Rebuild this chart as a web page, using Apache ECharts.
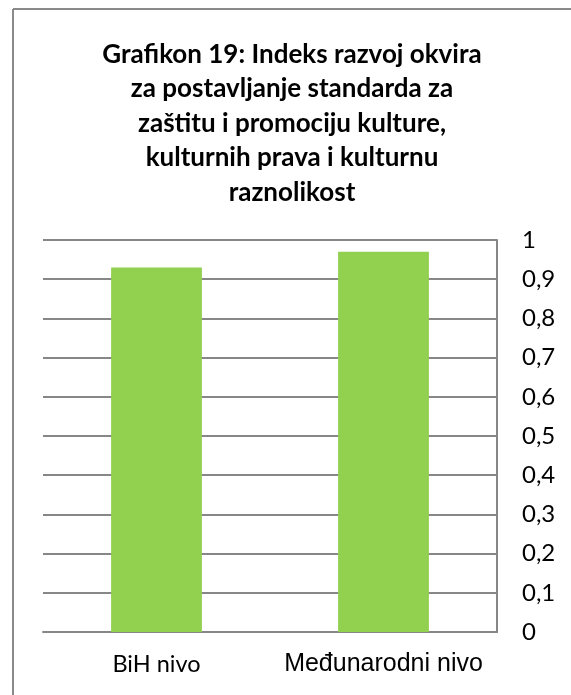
<!DOCTYPE html>
<html>
<head>
<meta charset="utf-8">
<script src="https://cdn.jsdelivr.net/npm/echarts@6/dist/echarts.min.js"></script>
<style>
  html, body { margin:0; padding:0; background:#fff; }
  #chart { width:571px; height:695px; }
</style>
</head>
<body>
<div id="chart"></div>
<script>
/* Grafikon 19 - index bars, value axis on the right */
var categories = ["BiH nivo", "Me\u0111unarodni nivo"];
var values = [0.93, 0.97];
var yTicks = [0, 0.1, 0.2, 0.3, 0.4, 0.5, 0.6, 0.7, 0.8, 0.9, 1];
var titleLines = [
  "Grafikon 19: Indeks razvoj okvira",
  "za postavljanje standarda za",
  "za\u0161titu i promociju kulture,",
  "kulturnih prava i kulturnu",
  "raznolikost"
];

var FONT = "Lato, 'Open Sans', sans-serif";
var GRID_C = "#878787";

var ch = echarts.init(document.getElementById("chart"), null, {renderer:"canvas"});
ch.setOption({
  animation:false,
  backgroundColor:"#ffffff",
  title:{
    text:titleLines.join("\n"),
    left:287, top:32, textAlign:"center",
    textStyle:{ fontFamily:FONT, fontWeight:"bold", fontSize:26, lineHeight:34.5, color:"#000" }
  },
  grid:{ left:43, right:74, top:240, bottom:63, containLabel:false },
  xAxis:{
    type:"category", data:categories,
    axisLine:{ lineStyle:{ color:GRID_C, width:2 } },
    axisTick:{ show:false },
    axisLabel:{
      margin:20,
      formatter:function(v, i){ return i === 0 ? "{s|" + v + "}" : "{b|" + v + "}"; },
      rich:{
        s:{ fontFamily:FONT, fontSize:23.5, color:"#000" },
        b:{ fontFamily:"'Liberation Sans', Arial, sans-serif", fontSize:25, color:"#000" }
      }
    }
  },
  yAxis:{
    type:"value", position:"right", min:0, max:1, interval:0.1,
    axisLine:{ show:true, lineStyle:{ color:GRID_C, width:2 } },
    axisTick:{ show:false },
    axisLabel:{
      margin:25, align:"left", color:"#000", fontFamily:FONT, fontSize:24,
      formatter:function(v){
        var t = yTicks.filter(function(x){ return Math.abs(x - v) < 1e-9; });
        return (t.length ? t[0] : v).toString().replace(".", ",");
      }
    },
    splitLine:{ lineStyle:{ color:GRID_C, width:2 } }
  },
  series:[{
    type:"bar", data:values, barWidth:"40%",
    itemStyle:{ color:"#92D050" },
    emphasis:{ disabled:true }
  }],
  graphic:[
    { type:"line", shape:{ x1:13, y1:9, x2:571, y2:9 }, style:{ stroke:"#8a8a8a", lineWidth:2 } },
    { type:"line", shape:{ x1:13, y1:9, x2:13, y2:695 }, style:{ stroke:"#8a8a8a", lineWidth:2 } }
  ]
});
</script>
</body>
</html>
